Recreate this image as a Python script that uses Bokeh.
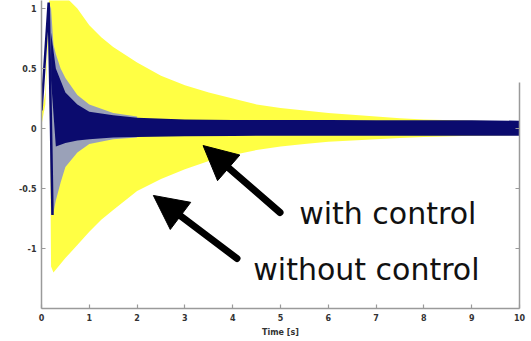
from bokeh.plotting import figure
from bokeh.models import (Range1d, LinearAxis, FixedTicker, Arrow, NormalHead,
                          Label, CustomJSTickFormatter)
from bokeh.embed import file_html
from bokeh.resources import INLINE

# ---- data (envelopes of the oscillating responses) ----
# without control (yellow)
t_yellow = [0.0, 0.08, 0.16, 0.2, 0.25, 0.5, 0.75, 1.0, 1.25, 1.5, 2.0, 2.5,
            3.0, 3.5, 4.0, 4.5, 5.0, 5.5, 6.0, 6.5, 7.0, 7.5, 8.0, 9.0, 10.0]
yellow_upper = [0.12, 0.3, 1.1, 1.2, 1.2, 1.1, 1.0, 0.86, 0.76, 0.68, 0.55, 0.44,
                0.36, 0.3, 0.25, 0.2, 0.17, 0.15, 0.13, 0.115, 0.10, 0.085, 0.075, 0.065, 0.06]
yellow_lower = [0.03, 0.2, 0.95, -1.15, -1.2, -1.08, -0.97, -0.86, -0.76, -0.68, -0.52, -0.42,
                -0.34, -0.27, -0.22, -0.18, -0.15, -0.13, -0.11, -0.10, -0.09, -0.08, -0.07, -0.06, -0.055]

# with control: initial stroke
t_blue_start = [0.0, 0.05, 0.1, 0.15, 0.19, 0.23]
blue_start = [0.15, 0.45, 0.75, 1.05, 0.2, -0.72]

# with control: early (light) envelope
t_blue_outer = [0.15, 0.2, 0.25, 0.3, 0.4, 0.5, 0.75, 1.0, 1.5, 2.0]
blue_outer_upper = [1.05, 1.0, 0.7, 0.62, 0.5, 0.42, 0.28, 0.2, 0.13, 0.1]
blue_outer_lower = [1.0, -0.72, -0.7, -0.6, -0.45, -0.32, -0.2, -0.13, -0.09, -0.075]

# with control: dense core
t_blue_core = [0.2, 0.3, 0.5, 0.75, 1.0, 1.5, 2.0, 3.0, 4.0, 5.0, 6.0, 7.0, 8.0, 9.0, 10.0]
blue_core_upper = [0.8, 0.5, 0.3, 0.2, 0.14, 0.11, 0.09, 0.075, 0.07, 0.07, 0.07, 0.068, 0.068, 0.068, 0.065]
blue_core_lower = [0.4, -0.15, -0.12, -0.1, -0.09, -0.075, -0.07, -0.065, -0.062, -0.06, -0.06, -0.06, -0.06, -0.06, -0.06]

x_ticks = [0, 1, 2, 3, 4, 5, 6, 7, 8, 9, 10]
y_ticks = [-1, -0.5, 0, 0.5, 1]
y_tick_labels = ["-1", "-0.5", "0", "0.5", "1"]

YELLOW = "#ffff44"
LAVENDER = "#8890cc"
NAVY = "#0b0b6e"
AXIS = "#9a9a9a"
FONT = "DejaVu Sans"

p = figure(width=531, height=341, x_range=Range1d(0, 10), y_range=Range1d(-1.5, 1.0667),
           output_backend="svg", toolbar_location=None,
           min_border_left=41, min_border_right=12, min_border_top=0, min_border_bottom=33)
p.outline_line_color = None
p.grid.visible = False
p.background_fill_color = "white"
p.border_fill_color = "white"

p.varea(x=t_yellow, y1=yellow_lower, y2=yellow_upper, fill_color=YELLOW)
p.varea(x=t_blue_outer, y1=blue_outer_lower, y2=blue_outer_upper, fill_color=LAVENDER, fill_alpha=0.85)
p.varea(x=t_blue_core, y1=blue_core_lower, y2=blue_core_upper, fill_color=NAVY)
p.line(x=t_blue_start, y=blue_start, line_color=NAVY, line_width=2.5)

# axes
xa = p.xaxis[0]
xa.ticker = FixedTicker(ticks=x_ticks)
xa.axis_label = "Time [s]"
ya = p.yaxis[0]
ya.ticker = FixedTicker(ticks=y_ticks)
ya.major_label_overrides = {t: s for t, s in zip(y_ticks, y_tick_labels)}

for ax in (xa, ya):
    ax.axis_line_color = AXIS
    ax.axis_line_width = 1.5
    ax.major_tick_line_color = AXIS
    ax.major_tick_line_width = 1.2
    ax.major_tick_in = 4
    ax.major_tick_out = 0
    ax.minor_tick_line_color = None
    ax.major_label_text_font = FONT
    ax.major_label_text_font_size = "8px"
    ax.major_label_text_font_style = "bold"
    ax.major_label_text_color = "#333333"
    ax.major_label_standoff = 5
xa.axis_label_text_font = FONT
xa.axis_label_text_font_size = "8px"
xa.axis_label_text_font_style = "bold"
xa.axis_label_text_color = "#333333"
xa.axis_label_standoff = 4

ra = LinearAxis(bounds=(-1.5, 0.383), ticker=FixedTicker(ticks=[-1, -0.5, 0]),
                formatter=CustomJSTickFormatter(code="return ''"),
                axis_line_color=AXIS, axis_line_width=1.5,
                major_tick_line_color=AXIS, major_tick_in=4, major_tick_out=0,
                minor_tick_line_color=None, major_label_standoff=0)
p.add_layout(ra, "right")

# annotations: shafts, then heads
for xs, ys, xe, ye in [(4.99, -0.70, 3.86, -0.31), (4.09, -1.083, 2.87, -0.716)]:
    p.add_layout(Arrow(end=None, x_start=xs, y_start=ys, x_end=xe, y_end=ye,
                       line_width=7, line_color="black", line_cap="round"))
for xs, ys, xe, ye in [(4.99, -0.70, 3.38, -0.142), (4.09, -1.083, 2.34, -0.558)]:
    p.add_layout(Arrow(end=NormalHead(size=34, fill_color="black", line_color="black", line_width=1),
                       x_start=xs, y_start=ys, x_end=xe, y_end=ye,
                       line_alpha=0))
p.add_layout(Label(x=5.39, y=-0.708, text="with control", text_font=FONT,
                   text_font_size="30px", text_color="#111111", text_baseline="alphabetic"))
p.add_layout(Label(x=4.43, y=-1.175, text="without control", text_font=FONT,
                   text_font_size="30px", text_color="#111111", text_baseline="alphabetic"))

open("out.html", "w").write(file_html(p, INLINE))
